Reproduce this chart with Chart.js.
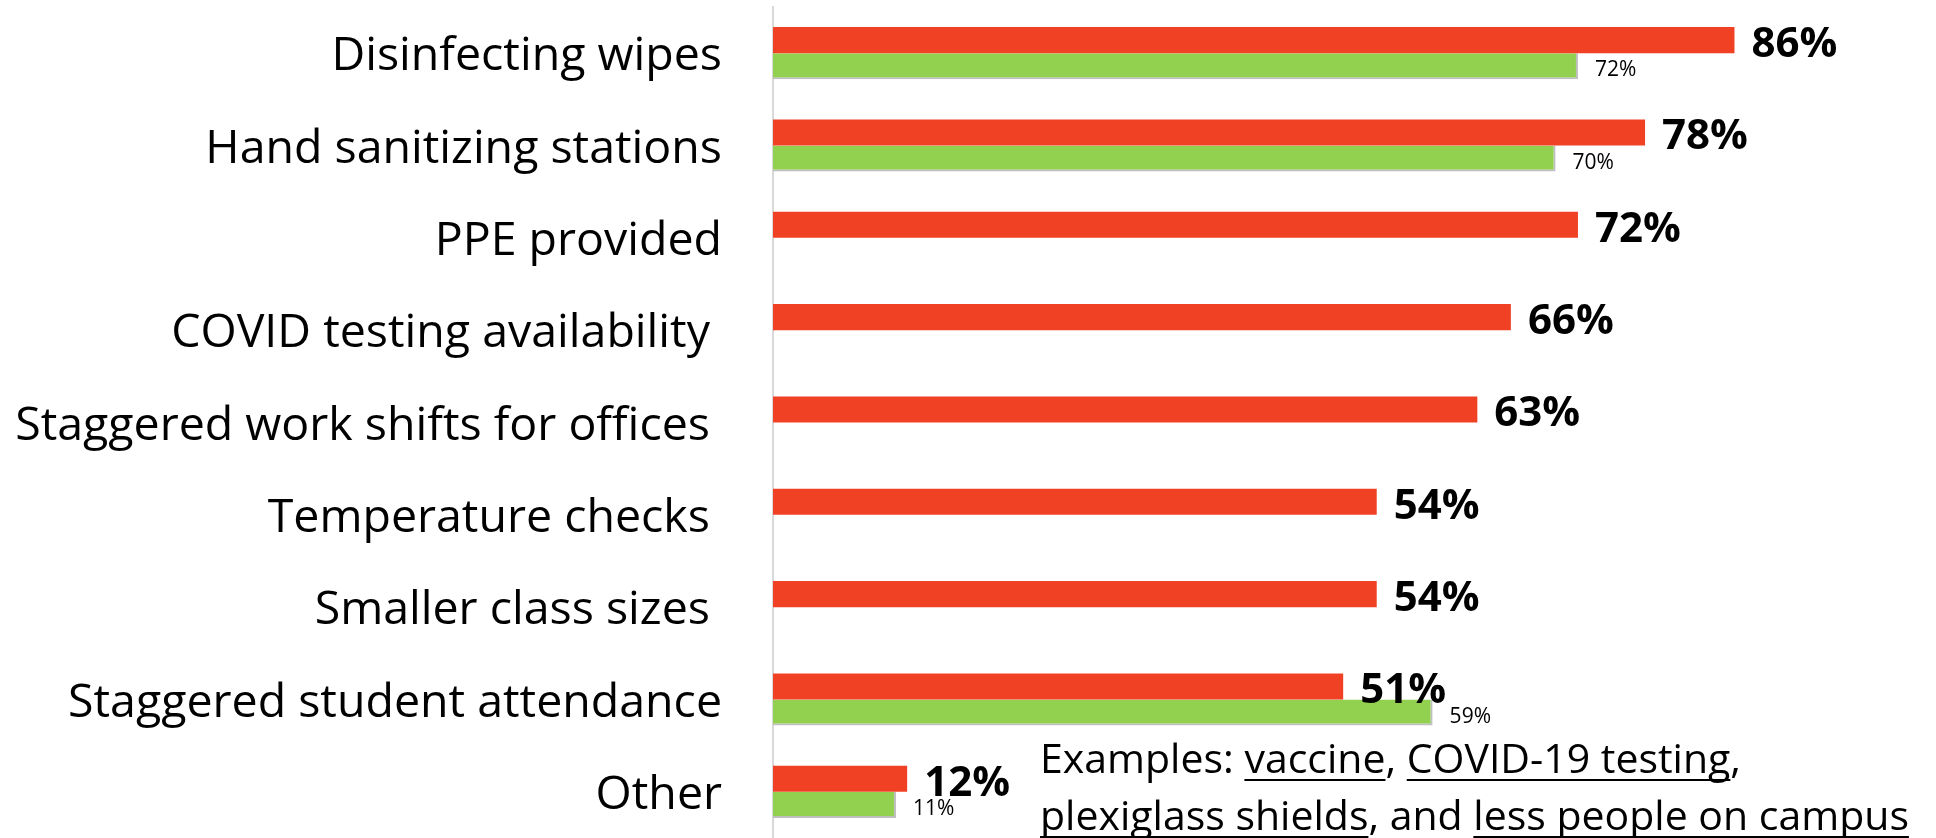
<!DOCTYPE html>
<html>
<head>
<meta charset="utf-8">
<script src="https://cdn.jsdelivr.net/npm/chart.js@4.4.1/dist/chart.umd.min.js"></script>
<style>
  html, body { margin: 0; padding: 0; background: #ffffff; }
  #wrap { position: relative; width: 1936px; height: 838px; }
</style>
</head>
<body>
<div id="wrap"><canvas id="c"></canvas></div>
<script>
// ---- data ----
const categories = [
  'Disinfecting wipes',
  'Hand sanitizing stations',
  'PPE provided',
  'COVID testing availability ',
  'Staggered work shifts for offices ',
  'Temperature checks ',
  'Smaller class sizes ',
  'Staggered student attendance',
  'Other'
];
const currentValues = [86, 78, 72, 66, 63, 54, 54, 51, 12];
const priorValues   = [72, 70, null, null, null, null, null, 59, 11];
const noteLine1 = [
  ['Examples: ', false], ['vaccine', true], [', ', false], ['COVID-19 testing', true], [',', false]
];
const noteLine2 = [
  ['plexiglass shields', true], [', and ', false], ['less people on campus', true]
];

const FONT = '"Open Sans", "Noto Sans", sans-serif';

const valueLabels = {
  id: 'valueLabels',
  afterDatasetsDraw(chart) {
    const ctx = chart.ctx;
    ctx.save();
    ctx.textBaseline = 'middle';
    ctx.textAlign = 'left';
    ctx.fillStyle = '#000000';
    const order = [1, 0];
    order.forEach(di => {
      const meta = chart.getDatasetMeta(di);
      const data = chart.data.datasets[di].data;
      meta.data.forEach((bar, i) => {
        const v = data[i];
        if (v === null || v === undefined) return;
        if (di === 0) {
          ctx.font = 'bold 42px ' + FONT;
          ctx.fillText(v + '%', bar.x + 17, bar.y + 5);
        } else {
          ctx.font = '21px ' + FONT;
          ctx.fillText(v + '%', bar.x + 17, bar.y + 4);
        }
      });
    });
    ctx.restore();
  }
};

const notePlugin = {
  id: 'note',
  afterDraw(chart) {
    const ctx = chart.ctx;
    ctx.save();
    ctx.font = '41px ' + FONT;
    ctx.fillStyle = '#000000';
    ctx.strokeStyle = '#000000';
    ctx.lineWidth = 2;
    ctx.textBaseline = 'alphabetic';
    ctx.textAlign = 'left';
    const drawLine = (segs, x0, y) => {
      let x = x0;
      segs.forEach(([t, u]) => {
        const w = ctx.measureText(t).width;
        ctx.fillText(t, x, y);
        if (u) {
          ctx.beginPath();
          ctx.moveTo(x, y + 7);
          ctx.lineTo(x + w, y + 7);
          ctx.stroke();
        }
        x += w;
      });
    };
    drawLine(noteLine1, 1040, 773);
    drawLine(noteLine2, 1040, 830);
    ctx.restore();
  }
};

function build() {
  new Chart(document.getElementById('c'), {
    type: 'bar',
    data: {
      labels: categories,
      datasets: [
        {
          label: 'Current',
          data: currentValues,
          backgroundColor: '#F04124',
          borderWidth: 0,
          categoryPercentage: 0.565,
          barPercentage: 1.0
        },
        {
          label: 'Prior',
          data: priorValues,
          backgroundColor: '#92D050',
          borderColor: '#BFBFBF',
          borderWidth: { top: 0, left: 0, right: 2, bottom: 2 },
          borderSkipped: false,
          categoryPercentage: 0.565,
          barPercentage: 1.0
        }
      ]
    },
    options: {
      indexAxis: 'y',
      responsive: true,
      maintainAspectRatio: false,
      animation: false,
      devicePixelRatio: 1,
      layout: { padding: { top: 7, right: 45, bottom: 0, left: 0 } },
      plugins: {
        legend: { display: false },
        tooltip: { enabled: false }
      },
      scales: {
        x: {
          display: false,
          min: 0,
          max: 100
        },
        y: {
          grid: { display: true, color: 'rgba(0,0,0,0)', drawTicks: false },
          border: { display: true, color: '#D9D9D9', width: 2 },
          ticks: {
            color: '#000000',
            padding: 51,
            labelOffset: 4,
            font: { family: FONT, size: 46.5 }
          },
          afterFit(scale) {
            scale.width = 773;
            scale.paddingTop = 0;
            scale.paddingBottom = 0;
          }
        }
      }
    },
    plugins: [valueLabels, notePlugin]
  });
}

const fontLoads = [
  '46px "Open Sans"', 'bold 42px "Open Sans"', '21px "Open Sans"', '41px "Open Sans"'
].map(f => document.fonts.load(f).catch(() => null));
Promise.race([
  Promise.all(fontLoads),
  new Promise(r => setTimeout(r, 1500))
]).then(build);
</script>
</body>
</html>
